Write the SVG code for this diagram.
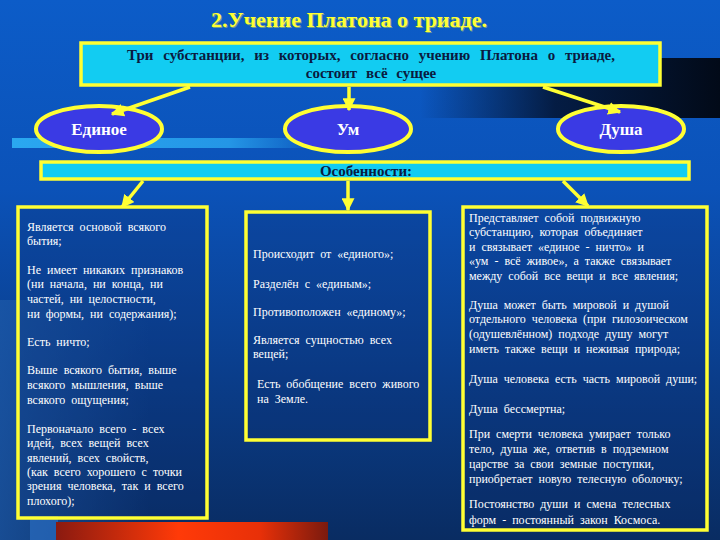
<svg xmlns="http://www.w3.org/2000/svg" width="720" height="540" viewBox="0 0 720 540">
<defs>
<linearGradient id="bg" x1="0" y1="0" x2="0" y2="1">
<stop offset="0" stop-color="#0C5CC8"/>
<stop offset="0.35" stop-color="#0B52B8"/>
<stop offset="0.7" stop-color="#0A3D8A"/>
<stop offset="1" stop-color="#092C62"/>
</linearGradient>
<linearGradient id="dark" x1="0" y1="0" x2="1" y2="0">
<stop offset="0" stop-color="#03122E" stop-opacity="0"/>
<stop offset="0.45" stop-color="#03122E" stop-opacity="0.85"/>
<stop offset="1" stop-color="#020A18" stop-opacity="1"/>
</linearGradient>
<linearGradient id="strip" x1="0" y1="0" x2="1" y2="0">
<stop offset="0" stop-color="#2AA8F0"/>
<stop offset="0.7" stop-color="#2496E6"/>
<stop offset="1" stop-color="#2496E6" stop-opacity="0"/>
</linearGradient>
<linearGradient id="red" x1="0" y1="0" x2="1" y2="0">
<stop offset="0" stop-color="#8A1A10"/>
<stop offset="0.45" stop-color="#FF3A08"/>
<stop offset="0.75" stop-color="#E83008"/>
<stop offset="1" stop-color="#7A1A0E"/>
</linearGradient>
<linearGradient id="leftglow" x1="0" y1="0" x2="1" y2="0">
<stop offset="0" stop-color="#1E5AA8" stop-opacity="0.7"/>
<stop offset="1" stop-color="#1E5AA8" stop-opacity="0"/>
</linearGradient>
<marker id="ah" viewBox="0 0 10 10" refX="9" refY="5" markerWidth="13" markerHeight="13" markerUnits="userSpaceOnUse" orient="auto">
<path d="M0,0 L10,5 L0,10 Z" fill="#FFFF33"/>
</marker>
</defs>
<style>
.cyan{fill:#12CCF2;stroke:#FFFF33;stroke-width:3.5}
.ell{fill:#3A3AE4;stroke:#FFFF33;stroke-width:4}
.box{fill:#0A2C6A;fill-opacity:0.25;stroke:#FFFF33;stroke-width:3.5}
.conn{stroke:#FFFF33;stroke-width:3.5;fill:none;marker-end:url(#ah)}
.title{font-family:"Liberation Serif",serif;font-weight:bold;font-size:22px;fill:#FFFF33}
.hdr{font-family:"Liberation Serif",serif;font-weight:bold;font-size:15px;fill:#0A1A40}
.en{font-family:"Liberation Serif",serif;font-weight:bold;font-size:17px;fill:#FFFFFF;text-anchor:middle}
.t{font-family:"Liberation Serif",serif;font-size:12px;fill:#FFFFFF;word-spacing:3px}
</style>
<rect x="0" y="0" width="720" height="540" fill="url(#bg)"/>
<rect x="0" y="300" width="150" height="240" fill="url(#leftglow)"/>
<rect x="420" y="58" width="300" height="60" fill="url(#dark)"/>
<rect x="12" y="138" width="310" height="10" fill="url(#strip)"/>
<rect x="30" y="516" width="28" height="24" fill="#2A6CC0" opacity="0.7"/>
<rect x="56" y="522" width="272" height="18" fill="url(#red)"/>

<g id="title">
<text class="title" x="349" y="27" text-anchor="middle" fill="#000" opacity="0.4" transform="translate(1,1)">2.Учение Платона о триаде.</text>
<text class="title" x="349" y="27" text-anchor="middle">2.Учение Платона о триаде.</text>
</g>

<g id="top">
<rect class="cyan" x="81" y="43" width="579" height="42"/>
<text class="hdr" x="371" y="60" text-anchor="middle" word-spacing="6">Три  субстанции,  из  которых,  согласно  учению  Платона о  триаде,</text>
<text class="hdr" x="371" y="78" text-anchor="middle" word-spacing="5">состоит  всё  сущее</text>
</g>

<g id="edinoe">
<ellipse class="ell" cx="99" cy="129" rx="63" ry="23"/>
<text class="en" x="99" y="135">Единое</text>
</g>
<g id="um">
<ellipse class="ell" cx="348" cy="129" rx="63" ry="23"/>
<text class="en" x="348" y="135">Ум</text>
</g>
<g id="dusha">
<ellipse class="ell" cx="621" cy="129" rx="63" ry="23"/>
<text class="en" x="621" y="135">Душа</text>
</g>

<g id="features">
<rect class="cyan" x="41" y="162" width="648" height="17"/>
<text class="hdr" x="366" y="176" text-anchor="middle">Особенности:</text>
</g>

<g id="col-edinoe">
<rect class="box" x="18" y="207" width="189" height="311"/>
<text class="t" x="27" y="231">Является основой всякого</text>
<text class="t" x="27" y="245">бытия;</text>
<text class="t" x="27" y="274">Не имеет никаких признаков</text>
<text class="t" x="27" y="288">(ни начала, ни конца, ни</text>
<text class="t" x="27" y="303">частей, ни целостности,</text>
<text class="t" x="27" y="318">ни формы, ни содержания);</text>
<text class="t" x="27" y="346">Есть ничто;</text>
<text class="t" x="27" y="374">Выше всякого бытия, выше</text>
<text class="t" x="27" y="389">всякого мышления, выше</text>
<text class="t" x="27" y="404">всякого ощущения;</text>
<text class="t" x="27" y="433">Первоначало всего - всех</text>
<text class="t" x="27" y="447">идей, всех вещей всех</text>
<text class="t" x="27" y="462">явлений, всех свойств,</text>
<text class="t" x="27" y="476">(как всего хорошего с точки</text>
<text class="t" x="27" y="490">зрения человека, так и всего</text>
<text class="t" x="27" y="505">плохого);</text>
</g>

<g id="col-um">
<rect class="box" x="246" y="212" width="184" height="228"/>
<text class="t" x="253" y="258">Происходит от «единого»;</text>
<text class="t" x="253" y="288">Разделён с «единым»;</text>
<text class="t" x="253" y="316">Противоположен «единому»;</text>
<text class="t" x="253" y="344">Является сущностью всех</text>
<text class="t" x="253" y="358">вещей;</text>
<text class="t" x="257" y="388">Есть обобщение всего живого</text>
<text class="t" x="257" y="403">на Земле.</text>
</g>

<g id="col-dusha">
<rect class="box" x="463" y="207" width="244" height="323"/>
<text class="t" x="469" y="222">Представляет собой подвижную</text>
<text class="t" x="469" y="236">субстанцию, которая объединяет</text>
<text class="t" x="469" y="251">и связывает «единое - ничто» и</text>
<text class="t" x="469" y="265">«ум - всё живое», а также связывает</text>
<text class="t" x="469" y="280">между собой все вещи и все явления;</text>
<text class="t" x="469" y="309">Душа может быть мировой и душой</text>
<text class="t" x="469" y="323">отдельного человека (при гилозоическом</text>
<text class="t" x="469" y="338">(одушевлённом) подходе душу могут</text>
<text class="t" x="469" y="353">иметь также вещи и неживая природа;</text>
<text class="t" x="469" y="383">Душа человека есть часть мировой души;</text>
<text class="t" x="469" y="413">Душа бессмертна;</text>
<text class="t" x="469" y="438">При смерти человека  умирает только</text>
<text class="t" x="469" y="453">тело, душа же, ответив в подземном</text>
<text class="t" x="469" y="468">царстве за свои земные поступки,</text>
<text class="t" x="469" y="483"> приобретает новую телесную оболочку;</text>
<text class="t" x="469" y="508">Постоянство души и смена телесных</text>
<text class="t" x="469" y="524">форм - постоянный закон Космоса.</text>
</g>

<g id="connectors">
<line class="conn" x1="190" y1="87" x2="112" y2="114"/>
<line class="conn" x1="349" y1="87" x2="349" y2="110"/>
<line class="conn" x1="543" y1="87" x2="620" y2="112"/>
<line class="conn" x1="143" y1="181" x2="122" y2="207"/>
<line class="conn" x1="348" y1="181" x2="348" y2="210"/>
<line class="conn" x1="563" y1="181" x2="588" y2="206"/>
</g>
</svg>
